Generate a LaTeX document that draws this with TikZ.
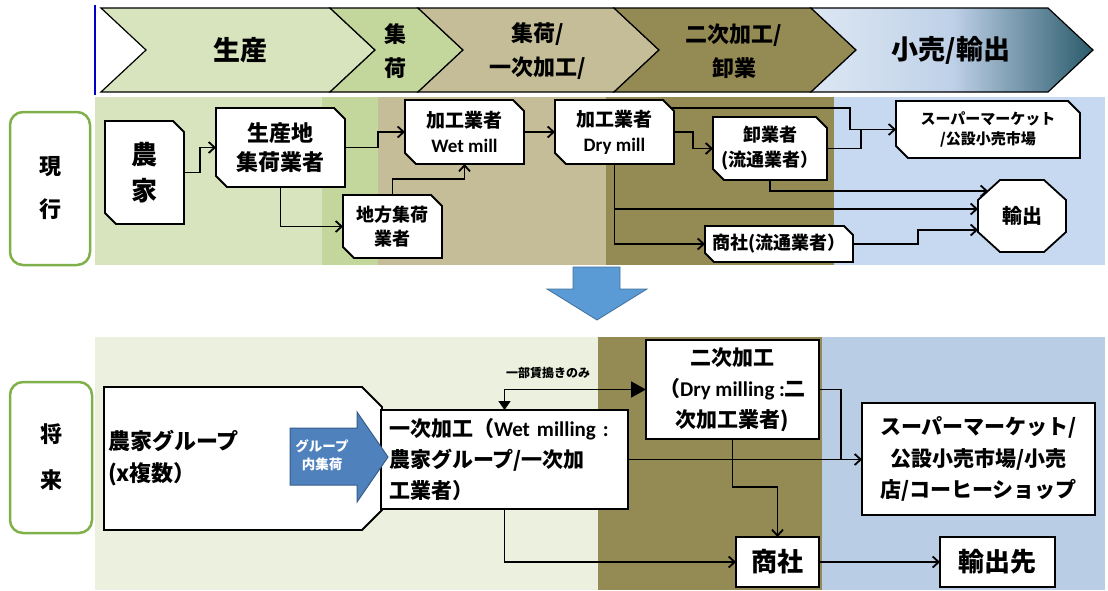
\documentclass[tikz,border=0pt]{standalone}
\usepackage{fontspec}
\setmainfont{Noto Sans CJK JP}
\newfontfamily\lat{Carlito}
\usetikzlibrary{arrows.meta,calc}
\pgfdeclarelayer{bgl}
\pgfdeclarelayer{mid}
\pgfsetlayers{bgl,mid,main}
\definecolor{gA}{HTML}{D7E4BD}
\definecolor{gB}{HTML}{C3D69B}
\definecolor{tanc}{HTML}{C4BD97}
\definecolor{olive}{HTML}{948A54}
\definecolor{blA}{HTML}{C6D9F1}
\definecolor{blB}{HTML}{B9CDE5}
\definecolor{lgr}{HTML}{EBF1DE}
\definecolor{sideg}{HTML}{80B04A}
\definecolor{cvL}{HTML}{DDE7F3}
\definecolor{cvM}{HTML}{BFD1E8}
\definecolor{cvR}{HTML}{2B5B6C}
\definecolor{arrblue}{HTML}{5B9BD5}
\definecolor{arrblueE}{HTML}{41719C}
\definecolor{grpblue}{HTML}{4F81BD}
\definecolor{grpblueE}{HTML}{385D8A}
\newcommand\fs[2]{\bfseries\fontsize{#1}{#2}\selectfont}
\newcommand\chamfbox[2]{%
  \begin{pgfonlayer}{mid}
  \filldraw[boxline] (#1.north west) -- ([xshift=-#2]#1.north east) -- ([yshift=-#2]#1.north east) -- (#1.south east) -- ([xshift=#2]#1.south west) -- ([yshift=#2]#1.south west) -- cycle;
  \end{pgfonlayer}}
\newcommand\chamfright[2]{%
  \begin{pgfonlayer}{mid}
  \filldraw[boxline] (#1.north west) -- ([xshift=-#2]#1.north east) -- ([yshift=-#2]#1.north east) -- ([yshift=#2]#1.south east) -- ([xshift=-#2]#1.south east) -- (#1.south west) -- cycle;
  \end{pgfonlayer}}
\newcommand\chev[3]{%
  \filldraw[chevline, fill=#3] (#1,8) -- (#2,8) -- (#2+45,50) -- (#2,92) -- (#1,92) -- (#1+45,50) -- cycle;}
\begin{document}
\begin{tikzpicture}[x=1pt,y=-1pt,
  lbl/.style={align=center, inner sep=0pt, outer sep=0pt},
  sbox/.style 2 args={minimum width=#1pt, minimum height=#2pt, inner sep=0pt, outer sep=0pt, align=center},
  pbox/.style 2 args={draw, line width=1.8pt, fill=white, minimum width=#1pt, minimum height=#2pt, inner sep=0pt, outer sep=0pt, align=center},
  boxline/.style={draw=black, line width=1.8pt, fill=white},
  chevline/.style={draw=black, line width=1.2pt},
  side/.style 2 args={draw=sideg, line width=2.5pt, rounded corners=13pt, minimum width=#1pt, minimum height=#2pt, inner sep=0pt, align=center},
  conn/.style={line width=1.8pt, -{Straight Barb[length=6pt,width=11pt]}},
  ln/.style={line width=1.8pt}]
\useasboundingbox (0,0) rectangle (1108,590);

% backgrounds
\begin{pgfonlayer}{bgl}
\fill[gA] (95,97) rectangle (322,265);
\fill[gB] (322,97) rectangle (378,265);
\fill[tanc] (378,97) rectangle (606,265);
\fill[olive] (606,97) rectangle (834,265);
\fill[blA] (834,97) rectangle (1105,265);
\fill[lgr] (95,337) rectangle (598,590);
\fill[olive] (598,337) rectangle (822,590);
\fill[blB] (822,337) rectangle (1105,590);
\end{pgfonlayer}

% banner
\draw[blue!80!black, line width=1.5pt] (95,5) -- (95,95);
\chev{101}{330}{gA}
\chev{330}{418}{gB}
\chev{418}{614}{tanc}
\chev{614}{811}{olive}
\draw[chevline, left color=cvL, right color=cvR, middle color=cvM] (811,8) -- (1048,8) -- (1093,50) -- (1048,92) -- (811,92) -- (856,50) -- cycle;
\node[lbl, font=\fs{27}{30}] (b1) at (240,50) {生産};
\node[lbl, font=\fs{22}{34}] (b2) at (395,51) {集\\荷};
\node[lbl, font=\fs{22}{34}] (b3) at (538,51) {集荷/\\一次加工/};
\node[lbl, font=\fs{22}{34}] (b4) at (734,51) {二次加工/\\卸業};
\node[lbl, font=\fs{27}{30}] (b5) at (951,50) {小売/輸出};

% side labels
\node[side={80}{153}, font=\fs{22}{43}] (genko) at (50,188.5) {現\\行};
\node[side={82}{151}, font=\fs{22}{46}] (shorai) at (51,457.5) {将\\来};

% upper nodes
\node[sbox={79}{103}, font=\fs{26}{36}] (noka) at (144.5,172.5) {農\\家};
\chamfbox{noka}{11pt}
\node[sbox={129}{79}, font=\fs{22}{29}] (seisan) at (280.5,147.5) {生産地\\集荷業者};
\chamfbox{seisan}{11pt}
\node[sbox={99}{63}, font=\fs{18}{24}] (chiho) at (392.5,226.5) {地方集荷\\業者};
\chamfbox{chiho}{11pt}
\node[sbox={119}{64}, font=\fs{19}{25}] (wet) at (464.5,132) {加工業者\\{\lat Wet mill}};
\chamfbox{wet}{11pt}
\node[sbox={119}{64}, font=\fs{19}{25}] (dry) at (614.5,132) {加工業者\\{\lat Dry mill}};
\chamfbox{dry}{11pt}
\node[sbox={114}{63}, font=\fs{18}{25}] (oroshi) at (770,148.5) {卸業者\\(流通業者）};
\chamfbox{oroshi}{11pt}
\node[sbox={148}{36}, font=\fs{18}{22}] (shosha1) at (779,244) {商社(流通業者）};
\chamfbox{shosha1}{9pt}
\node[sbox={184}{57}, font=\fs{15}{20}] (super1) at (988,129.5) {スーパーマーケット\\/公設小売市場};
\chamfbox{super1}{12pt}
\begin{pgfonlayer}{mid}
\filldraw[boxline] (1000,180) -- (1044,180) -- (1066,200) -- (1066,232) -- (1044,252) -- (1000,252) -- (978,232) -- (978,200) -- cycle;
\end{pgfonlayer}
\node[sbox={88}{72}, font=\fs{20}{24}] (export) at (1022,216) {輸出};
\coordinate (exA) at (988,191);

% upper connectors
\draw[conn] (noka.east) -- ++(16,0) |- (seisan.west);
\draw[conn] (seisan.east) -- ++(33,0) |- (wet.west);
\draw[conn] (seisan.south) |- (chiho.west);
\draw[conn] (chiho.north) -- ++(0,-16) -| (wet.south);
\draw[conn] (wet.east) -- (dry.west);
\draw[conn] (dry.east) -- ++(19,0) |- (oroshi.west);
\draw[conn] ([xshift=-3pt,yshift=-8pt]dry.north east) -| ([xshift=-46pt]super1.west) -- (super1.west);
\draw[ln] (oroshi.east) -| ([xshift=-35pt]super1.west);
\draw[conn] (dry.south) |- (shosha1.west);
\draw[conn] (dry.south |- 0,209) -- (export.west |- 0,209);
\draw[conn] (oroshi.south) |- (exA);
\draw[conn] (shosha1.east) -- ++(65,0) |- (export.west |- 0,230);

% big down arrow
\filldraw[fill=arrblue, draw=arrblueE, line width=0.8pt] (573,267) -- (620,267) -- (620,289) -- (647,289) -- (597,320) -- (547,289) -- (573,289) -- cycle;

% lower nodes
\node[sbox={278}{143}, align=left, text width=270pt, font=\fs{22}{32}] (group) at (243,458.5) {農家グループ\\(x複数）};
\chamfright{group}{20pt}
\node[pbox={247}{99}, align=left, text width=231pt, font=\fs{21}{31}] (ichiji) at (504.5,459.5) {一次加工（{\lat Wet milling :}\\農家グループ/一次加\\工業者）};
\node[pbox={173}{99}, font=\fs{21}{31}] (niji) at (732.5,389.5) {二次加工\\（{\lat Dry milling :}二\\次加工業者)};
\node[pbox={233}{112}, font=\fs{21}{31.5}] (super2) at (978.5,459) {スーパーマーケット/\\公設小売市場/小売\\店/コーヒーショップ};
\node[pbox={83}{50}, font=\fs{26}{30}] (shosha2) at (777.5,562) {商社};
\node[pbox={115}{50}, font=\fs{26}{30}] (yushutsu) at (997.5,562) {輸出先};

\filldraw[fill=grpblue, draw=grpblueE, line width=1pt] (290,428) -- (357,428) -- (357,412) -- (388,457) -- (357,502) -- (357,485) -- (290,485) -- cycle;
\node[lbl, text=white, font=\fs{13.5}{18}] (gnai) at (322,455) {グループ\\内集荷};

% lower connectors
\draw[line width=1.8pt, {Triangle[length=9pt,width=12pt]}-{Triangle[length=15pt,width=16pt]}] (ichiji.north) |- (niji.west);
\node[lbl, font=\fs{12}{14}] (partial) at (548,373) {一部賃搗きのみ};
\draw[conn] (ichiji.east) -- (super2.west |- ichiji.east);
\draw[ln] (niji.east) -| ([xshift=-21pt]super2.west |- ichiji.east);
\draw[conn] (niji.south) -- ++(0,48) -| (shosha2.north);
\draw[conn] (ichiji.south) |- (shosha2.west);
\draw[conn] (shosha2.east) -- (yushutsu.west);
\end{tikzpicture}
\end{document}
